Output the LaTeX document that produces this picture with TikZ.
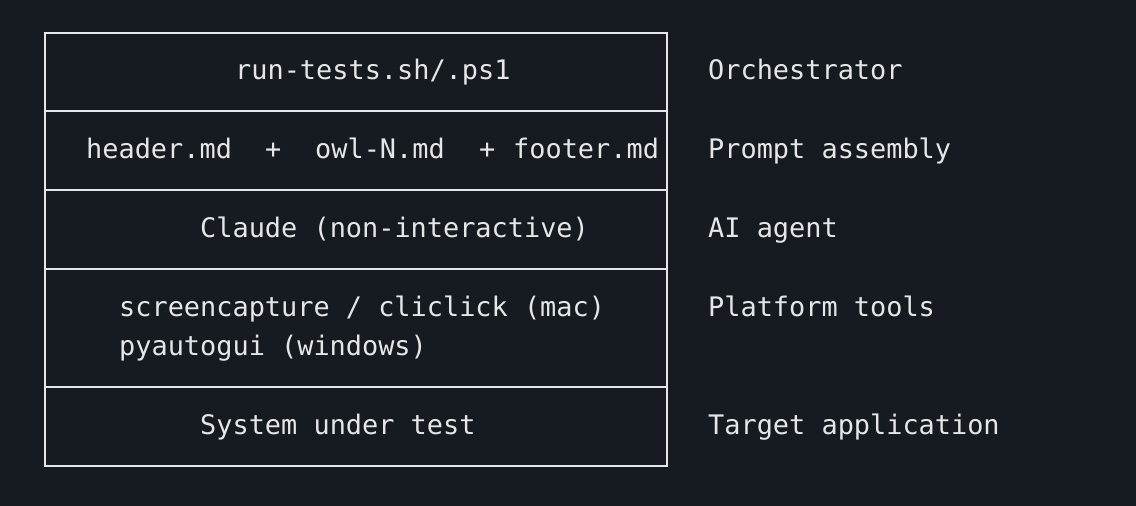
\documentclass[tikz,border=0pt]{standalone}
\usepackage{fontspec}
\setmonofont{DejaVu Sans Mono}
\definecolor{bg}{HTML}{161B22}
\definecolor{fg}{HTML}{E6E6E6}
\begin{document}
\begin{tikzpicture}[x=1pt,y=-1pt,
  t/.style={anchor=mid west,inner sep=0pt,text=fg,font=\ttfamily\fontsize{26.9}{30}\selectfont},
  ln/.style={draw=fg,line width=1.6pt}]
\fill[bg] (0,0) rectangle (1136,506);
\useasboundingbox (0,0) rectangle (1136,506);
\draw[ln] (45,33) rectangle (667,466);
\foreach \y in {111,190,269,387} \draw[ln] (45,\y) -- (667,\y);
\node[t] (a) at (235,77) {run-tests.sh/.ps1};
\node[t] (b1) at (86,156) {header.md};
\node[t] (b2) at (265,156) {+};
\node[t] (b3) at (315,156) {owl-N.md};
\node[t] (b4) at (479,156) {+};
\node[t] (b5) at (513,156) {footer.md};
\node[t] (c) at (200,235) {Claude (non-interactive)};
\node[t] (d1) at (119,314) {screencapture / cliclick (mac)};
\node[t] (d2) at (119,353) {pyautogui (windows)};
\node[t] (e) at (200,432) {System under test};
\node[t] (l1) at (708,77) {Orchestrator};
\node[t] (l2) at (708,156) {Prompt assembly};
\node[t] (l3) at (708,235) {AI agent};
\node[t] (l4) at (708,314) {Platform tools};
\node[t] (l5) at (708,432) {Target application};
\end{tikzpicture}
\end{document}
